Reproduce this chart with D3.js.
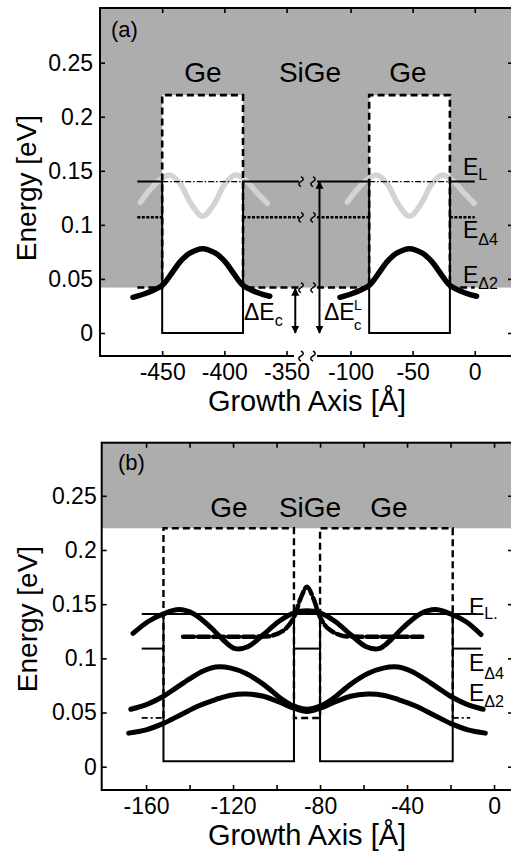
<!DOCTYPE html>
<html>
<head>
<meta charset="utf-8">
<script src="https://cdn.jsdelivr.net/npm/d3@7"></script>
<style>
body { margin: 0; background: #fff; }
text { font-family: "Liberation Sans", Arial, sans-serif; fill: #000; }
</style>
</head>
<body>
<svg id="chart" width="511" height="854"></svg>
<script>
// ---- shared ticks
var tickY = [0, 0.05, 0.1, 0.15, 0.2, 0.25]
var tickYLabels = ["0", "0.05", "0.1", "0.15", "0.2", "0.25"]

// ---- panel (a): broken growth axis
var tickXa = [-450, -400, -350, -100, -50, 0]
var wellsA = [[-450, -385], [-85, -20]]
var segsA = [[-470, -340], [-127, 0]]
var topA = 0.22, elA = 0.14, d4A = 0.107, d2A = 0.042
// thick black (Delta2) wavefunction, one x list per well
var d2LeftX = [-473.5, -462.5, -450, -442.5, -435.5, -427.5, -417.5, -407.5, -399.5, -392.5, -385, -372.5, -363.5]
var d2RightX = [-108.5, -97.5, -85, -77.5, -70.5, -62.5, -52.5, -42.5, -34.5, -27.5, -20, -7.5, 1.5]
var d2E = [0.033, 0.037, 0.044, 0.055, 0.066, 0.074, 0.078, 0.074, 0.066, 0.055, 0.044, 0.037, 0.034]
// pale (Delta4) wavefunction
var d4LeftX = [-467.5, -459.5, -451.5, -443.5, -435.5, -426.5, -417.5, -408.5, -399.5, -391.5, -383.5, -375.5, -365.5]
var d4RightX = [-102.5, -94.5, -86.5, -78.5, -70.5, -61.5, -52.5, -43.5, -34.5, -26.5, -18.5, -10.5, -0.5]
var d4E = [0.121, 0.133, 0.142, 0.146, 0.138, 0.119, 0.108, 0.119, 0.138, 0.146, 0.142, 0.132, 0.12]

// ---- panel (b)
var tickXb = [-160, -140, -120, -100, -80, -60, -40, -20, 0]
var tickXbLabels = [-160, -120, -80, -40, 0]
var wellsB = [[-152, -92], [-80, -19]]
var topB = 0.22, elB = 0.141, d4B = 0.109, d2B = 0.045, floorB = 0.005
var lineStartB = -162
var curveAX = [-166, -159, -152, -145, -138, -130, -124, -119, -113, -106, -99, -92, -86, -80, -73, -66, -59, -53, -48, -42, -34, -27, -20, -13, -6]
var curveAE = [0.123, 0.134, 0.141, 0.145, 0.141, 0.128, 0.116, 0.109, 0.111, 0.122, 0.134, 0.142, 0.144, 0.142, 0.134, 0.122, 0.111, 0.109, 0.116, 0.128, 0.141, 0.145, 0.141, 0.134, 0.122]
var curveDX = [-143, -125, -110, -102, -96, -92, -89, -86, -83, -80, -76, -70, -62, -45, -33]
var curveDE = [0.12, 0.12, 0.12, 0.121, 0.127, 0.138, 0.155, 0.166, 0.155, 0.138, 0.127, 0.121, 0.12, 0.12, 0.12]
var curveBX = [-167, -159, -152, -146, -140, -134, -128, -121, -114, -106, -98, -92, -86, -80, -74, -66, -58, -51, -44, -38, -32, -26, -20, -13, -5]
var curveBE = [0.053, 0.058, 0.065, 0.073, 0.081, 0.088, 0.092, 0.091, 0.086, 0.076, 0.063, 0.056, 0.053, 0.056, 0.063, 0.076, 0.086, 0.091, 0.092, 0.088, 0.081, 0.073, 0.065, 0.058, 0.053]
var curveCX = [-168, -160, -152, -144, -136, -128, -121, -114, -106, -98, -92, -86, -80, -74, -66, -58, -51, -44, -36, -28, -20, -12, -4]
var curveCE = [0.031, 0.034, 0.040, 0.048, 0.056, 0.062, 0.066, 0.067, 0.065, 0.059, 0.054, 0.051, 0.054, 0.059, 0.065, 0.067, 0.066, 0.062, 0.056, 0.048, 0.040, 0.034, 0.031]

var shade = "#adadad", pale = "#d3d3d3"
var svg = d3.select("#chart")

var defs = svg.append("defs")
defs.append("marker").attr("id", "head")
  .attr("viewBox", "0 0 10 10").attr("refX", 9).attr("refY", 5)
  .attr("markerWidth", 4).attr("markerHeight", 4.5)
  .attr("orient", "auto-start-reverse")
  .append("path").attr("d", "M0,0 L10,5 L0,10 Z").attr("fill", "#000")

function lineOf(x, y) {
  return d3.line().x(d => x(d[0])).y(d => y(d[1]))
}

function path(g, x, y, pts, w, dash) {
  g.append("path").attr("d", lineOf(x, y)(pts))
    .attr("fill", "none").attr("stroke", "#000").attr("stroke-width", w)
    .attr("stroke-dasharray", dash || null)
}

function wave(g, x, y, xs, es, color, w, dash) {
  var ln = lineOf(x, y).curve(d3.curveCatmullRom.alpha(0.5))
  g.append("path").attr("d", ln(d3.zip(xs, es)))
    .attr("fill", "none").attr("stroke", color).attr("stroke-width", w)
    .attr("stroke-linecap", "round")
    .attr("stroke-dasharray", dash || null)
}

function frameAxes(g, x, y, xt, xfmt, x0, x1, y0, y1, pad) {
  var fs = 23
  g.append("g").attr("transform", "translate(0," + y0 + ")")
    .call(d3.axisBottom(x).tickValues(xt).tickSize(-5).tickPadding(8).tickFormat(xfmt))
    .call(a => a.select(".domain").remove())
    .attr("font-size", fs).attr("font-family", "Liberation Sans, Arial, sans-serif")
  g.append("g").attr("transform", "translate(0," + y1 + ")")
    .call(d3.axisTop(x).tickValues(xt).tickSize(-5).tickFormat(""))
    .call(a => a.select(".domain").remove())
  g.append("g").attr("transform", "translate(" + x0 + ",0)")
    .call(d3.axisLeft(y).tickValues(tickY).tickSize(-5).tickPadding(pad)
      .tickFormat((d, i) => tickYLabels[i]))
    .call(a => a.select(".domain").remove())
    .attr("font-size", fs).attr("font-family", "Liberation Sans, Arial, sans-serif")
  g.append("g").attr("transform", "translate(" + x1 + ",0)")
    .call(d3.axisRight(y).tickValues(tickY).tickSize(-5).tickFormat(""))
    .call(a => a.select(".domain").remove())
  g.selectAll(".tick line").attr("stroke-width", 1.6)
}

function text(g, x, y, s, size, anchor) {
  return g.append("text").attr("x", x).attr("y", y).attr("font-size", size)
    .attr("text-anchor", anchor || "start").text(s)
}

function elabel(g, x, y, main, sub, size, dy) {
  var t = text(g, x, y, main, size)
  t.append("tspan").attr("font-size", size * 0.7).attr("dy", dy).text(sub)
  return t
}

function squiggle(g, x, y) {
  g.append("path")
    .attr("d", "M" + (x - 1) + "," + (y - 5) + " c3,1.5 3,3.5 0,5 c-3,1.5 -3,3.5 0,5")
    .attr("fill", "none").attr("stroke", "#000").attr("stroke-width", 1.5)
}

// =========================== panel (a)
var xa = d3.scaleLinear().domain([-500, -340, -127, 30]).range([100, 299, 317, 512])
var ya = d3.scaleLinear().domain([-0.0213, 0.3006]).range([356, 8])
var ga = svg.append("g")
var L = xa(-500), R = 513

ga.append("rect").attr("x", L).attr("y", ya(0.3006)).attr("width", R - L)
  .attr("height", ya(d2A) - ya(0.3006)).attr("fill", shade)
wellsA.forEach(w => {
  ga.append("rect").attr("x", xa(w[0])).attr("y", ya(topA))
    .attr("width", xa(w[1]) - xa(w[0])).attr("height", ya(0) - ya(topA)).attr("fill", "#fff")
})

// pale Delta4 wavefunctions underneath
wave(ga, xa, ya, d4LeftX, d4E, pale, 5.5)
wave(ga, xa, ya, d4RightX, d4E, pale, 5.5)

wellsA.forEach((w, i) => {
  var s = segsA[i]
  // L-band profile
  path(ga, xa, ya, [[s[0], elA], [w[0], elA], [w[0], 0], [w[1], 0], [w[1], elA], [s[1], elA]], 2)
  // E_L level inside well
  path(ga, xa, ya, [[w[0], elA], [w[1], elA]], 1.3, "6,2,1.5,2")
  // Delta2 profile (dashed box)
  path(ga, xa, ya, [[s[0], d2A], [w[0], d2A], [w[0], topA], [w[1], topA], [w[1], d2A], [s[1], d2A]], 2.6, "7,4")
  // Delta4 barrier level (dotted)
  path(ga, xa, ya, [[s[0], d4A], [w[0], d4A]], 2.4, "3,1.5")
  path(ga, xa, ya, [[w[1], d4A], [s[1], d4A]], 2.4, "3,1.5")
})

wave(ga, xa, ya, d2LeftX, d2E, "#000", 5.5)
wave(ga, xa, ya, d2RightX, d2E, "#000", 5.5)

// axis break marks
;[elA, d4A, d2A].forEach(e => {
  squiggle(ga, xa(-340) + 3, ya(e))
  squiggle(ga, xa(-127) - 3, ya(e))
})
squiggle(ga, xa(-340) + 3, ya(-0.0213))
squiggle(ga, xa(-127) - 3, ya(-0.0213))

// arrows
ga.append("line").attr("x1", xa(-343)).attr("x2", xa(-343))
  .attr("y1", ya(d2A) + 1).attr("y2", ya(0))
  .attr("stroke", "#000").attr("stroke-width", 2)
  .attr("marker-start", "url(#head)").attr("marker-end", "url(#head)")
ga.append("line").attr("x1", xa(-125)).attr("x2", xa(-125))
  .attr("y1", ya(elA)).attr("y2", ya(0))
  .attr("stroke", "#000").attr("stroke-width", 2)
  .attr("marker-start", "url(#head)").attr("marker-end", "url(#head)")

// frame
var yTop = ya(0.3006), yBot = ya(-0.0213)
ga.append("path").attr("fill", "none").attr("stroke", "#000").attr("stroke-width", 2)
  .attr("d", "M" + (xa(-340) - 5) + "," + yBot + "H" + L + "V" + yTop + "H" + R + "V" + yBot + "H" + xa(-127))
frameAxes(ga, xa, ya, tickXa, d => String(d), L, R, yBot, yTop, 7)

text(ga, 111, 37, "(a)", 22)
text(ga, 203, 82, "Ge", 28, "middle")
text(ga, 310, 82, "SiGe", 28, "middle")
text(ga, 408, 82, "Ge", 28, "middle")
elabel(ga, 463, 175, "E", "L", 23, 5)
elabel(ga, 463, 238, "E", "\u03944", 23, 7)
elabel(ga, 463, 283, "E", "\u03942", 23, 6)
elabel(ga, 244, 320, "\u0394E", "c", 23, 6)
text(ga, 324, 320, "\u0394E", 23)
text(ga, 354, 310, "L", 14)
text(ga, 354, 330, "c", 15)
text(ga, 307, 411, "Growth Axis [\u00c5]", 29, "middle")
text(ga, 0, 0, "Energy [eV]", 28, "middle").attr("transform", "translate(36,188) rotate(-90)")

// =========================== panel (b)
var xb = d3.scaleLinear().domain([-180.4, 7.8]).range([101.7, 511])
var yb = d3.scaleLinear().domain([-0.0215, 0.299]).range([790, 442.7])
var gb = svg.append("g")
var Lb = xb(-180.4), Rb = 513
var yTopB = yb(0.299), yBotB = yb(-0.0215)

gb.append("rect").attr("x", Lb).attr("y", yTopB).attr("width", Rb - Lb)
  .attr("height", yb(topB) - yTopB).attr("fill", shade)

// Delta2/Delta4 profile (dashed)
path(gb, xb, yb, [[wellsB[0][0], d2B], [wellsB[0][0], topB], [wellsB[0][1], topB], [wellsB[0][1], d2B],
  [wellsB[1][0], d2B], [wellsB[1][0], topB], [wellsB[1][1], topB], [wellsB[1][1], d2B]], 2.4, "7,4")
path(gb, xb, yb, [[lineStartB, d2B], [wellsB[0][0], d2B]], 1.8, "6,3,2,3")
path(gb, xb, yb, [[wellsB[1][1], d2B], [-11, d2B]], 1.8, "6,3,2,3")
// L profile
path(gb, xb, yb, [[wellsB[0][0], elB], [wellsB[0][0], floorB], [wellsB[0][1], floorB], [wellsB[0][1], elB]], 2)
path(gb, xb, yb, [[wellsB[1][0], elB], [wellsB[1][0], floorB], [wellsB[1][1], floorB], [wellsB[1][1], elB]], 2)
path(gb, xb, yb, [[lineStartB, elB], [-8, elB]], 2)
// Delta4 barrier level
path(gb, xb, yb, [[lineStartB, d4B], [wellsB[0][0], d4B]], 2)
path(gb, xb, yb, [[wellsB[0][1], d4B], [wellsB[1][0], d4B]], 2)
path(gb, xb, yb, [[wellsB[1][1], d4B], [-6, d4B]], 2)

wave(gb, xb, yb, curveDX, curveDE, "#000", 4.5, "11,4")
wave(gb, xb, yb, curveAX, curveAE, "#000", 5)
wave(gb, xb, yb, curveBX, curveBE, "#000", 5)
wave(gb, xb, yb, curveCX, curveCE, "#000", 5)

gb.append("rect").attr("x", Lb).attr("y", yTopB).attr("width", Rb - Lb).attr("height", yBotB - yTopB)
  .attr("fill", "none").attr("stroke", "#000").attr("stroke-width", 2)
frameAxes(gb, xb, yb, tickXb, d => tickXbLabels.indexOf(d) >= 0 ? String(d) : "", Lb, Rb, yBotB, yTopB, 5)

text(gb, 118, 470, "(b)", 22)
text(gb, 229, 517, "Ge", 28, "middle")
text(gb, 310, 517, "SiGe", 28, "middle")
text(gb, 389, 517, "Ge", 28, "middle")
elabel(gb, 469, 615, "E", "L.", 23, 4)
elabel(gb, 469, 671, "E", "\u03944", 23, 8)
elabel(gb, 469, 701, "E", "\u03942", 23, 6)
text(gb, 307, 845, "Growth Axis [\u00c5]", 29, "middle")
text(gb, 0, 0, "Energy [eV]", 28, "middle").attr("transform", "translate(37,619) rotate(-90)")
</script>
</body>
</html>
